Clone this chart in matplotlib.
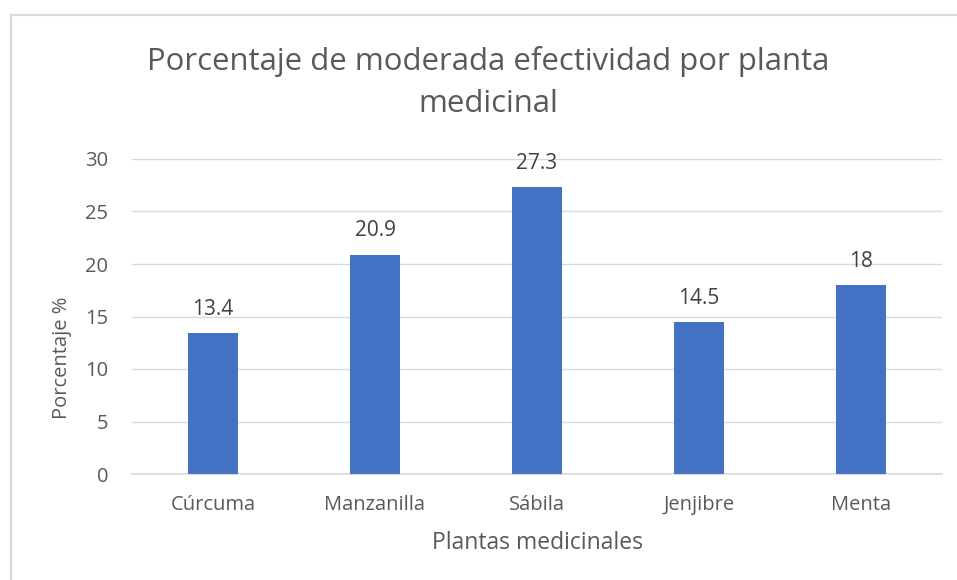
import matplotlib
matplotlib.use('Agg')
from matplotlib import pyplot as plt
from matplotlib.lines import Line2D

plantas = ['Cúrcuma', 'Manzanilla', 'Sábila', 'Jenjibre', 'Menta']
porcentaje = [13.4, 20.9, 27.3, 14.5, 18]
etiquetas = ['13.4', '20.9', '27.3', '14.5', '18']
yticks = [0, 5, 10, 15, 20, 25, 30]

W, H = 957, 580
gris = '#595959'
matplotlib.rcParams['font.family'] = ['Open Sans', 'DejaVu Sans']

fig = plt.figure(figsize=(W / 100, H / 100), dpi=100)

# chart area border (left and top visible, rest cropped)
fig.add_artist(Line2D([11 / W, 11 / W], [0, 1 - 15 / H], color='#d9d9d9', lw=1.5))
fig.add_artist(Line2D([11 / W, 1], [1 - 15 / H, 1 - 15 / H], color='#d9d9d9', lw=1.5))

ax = fig.add_axes([132 / W, 106 / H, 810 / W, 315 / H])
x = range(len(plantas))
ax.bar(x, porcentaje, width=0.31, color='#4472C4', zorder=3)
for i, v in enumerate(porcentaje):
    ax.annotate(etiquetas[i], (i, v), xytext=(0, 13), textcoords='offset points',
                ha='center', va='baseline', fontsize=15, color='#404040')

ax.set_xlim(-0.5, len(plantas) - 0.5)
ax.set_ylim(0, 30)
ax.set_yticks(yticks)
ax.set_xticks(list(x))
ax.set_xticklabels(plantas)
ax.grid(axis='y', color='#d9d9d9', lw=1, zorder=0)
for s in ['top', 'right', 'left']:
    ax.spines[s].set_visible(False)
ax.spines['bottom'].set_color('#d9d9d9')
ax.spines['bottom'].set_linewidth(1.2)
ax.tick_params(length=0, labelsize=14.5, labelcolor=gris)
ax.tick_params(axis='x', pad=15)
ax.tick_params(axis='y', pad=17)

ax.set_xlabel('Plantas medicinales', fontsize=16.5, color=gris)
ax.xaxis.set_label_coords(0.5, -(543 - 474) / 315)
ax.xaxis.label.set_va('center')
ax.set_ylabel('Porcentaje %', fontsize=14.5, color=gris)
ax.yaxis.set_label_coords((62 - 132) / 810, (474 - 358) / 315)
ax.yaxis.label.set_va('center')

fig.text(488 / W, 1 - 82.5 / H, 'Porcentaje de moderada efectividad por planta\nmedicinal',
         ha='center', va='center', fontsize=22.4, color=gris, linespacing=1.5)

fig.savefig('out.png', dpi=100)
